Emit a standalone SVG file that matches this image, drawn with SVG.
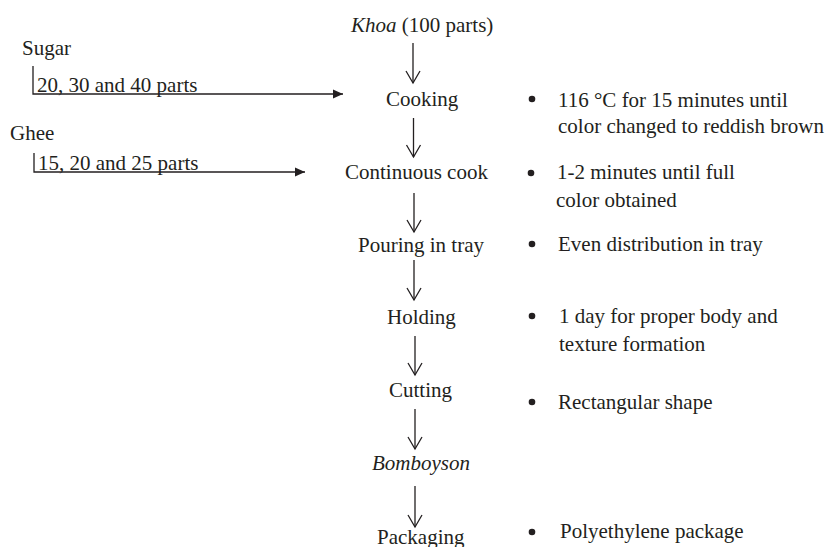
<svg xmlns="http://www.w3.org/2000/svg" width="829" height="547" viewBox="0 0 829 547">
<style>
text{font-family:"Liberation Serif","Times New Roman",serif;font-size:21px;fill:#231f20}
.it{font-style:italic}
.ln{stroke:#231f20;stroke-width:1.3;fill:none}
.bul{fill:#231f20}
</style>
<defs>
<marker id="v" viewBox="-13 -8 15 16" refX="0" refY="0" markerWidth="15" markerHeight="16" markerUnits="userSpaceOnUse" orient="auto" overflow="visible">
<path d="M-12,-7 L0,0 L-12,7" fill="none" stroke="#231f20" stroke-width="1.3"/>
</marker>
<marker id="t" viewBox="-11 -5 12 10" refX="0" refY="0" markerWidth="12" markerHeight="10" markerUnits="userSpaceOnUse" orient="auto" overflow="visible">
<path d="M-10,-4.5 L0,0 L-10,4.5 Z" fill="#231f20"/>
</marker>
</defs>
<rect width="829" height="547" fill="#fff"/>
<g id="connectors">
<line class="ln" x1="413" y1="43" x2="413" y2="83" marker-end="url(#v)"/>
<line class="ln" x1="413.5" y1="118" x2="413.5" y2="157" marker-end="url(#v)"/>
<line class="ln" x1="414" y1="193" x2="414" y2="232" marker-end="url(#v)"/>
<line class="ln" x1="414" y1="260" x2="414" y2="300" marker-end="url(#v)"/>
<line class="ln" x1="415" y1="336" x2="415" y2="375" marker-end="url(#v)"/>
<line class="ln" x1="415" y1="409" x2="415" y2="449" marker-end="url(#v)"/>
<line class="ln" x1="415" y1="486" x2="415" y2="527" marker-end="url(#v)"/>
<polyline class="ln" points="33,66 33,94 343,94" marker-end="url(#t)"/>
<polyline class="ln" points="34,153 34,172 305,172" marker-end="url(#t)"/>
</g>
<g id="khoa"><text x="351" y="32"><tspan class="it">Khoa</tspan> (100 parts)</text></g>
<g id="cooking"><text x="386" y="106">Cooking</text></g>
<g id="continuous"><text x="345" y="179">Continuous cook</text></g>
<g id="pouring"><text x="358" y="252">Pouring in tray</text></g>
<g id="holding"><text x="387" y="324">Holding</text></g>
<g id="cutting"><text x="389" y="397">Cutting</text></g>
<g id="bomboyson"><text class="it" x="372" y="470">Bomboyson</text></g>
<g id="packaging"><text x="377" y="544">Packaging</text></g>
<g id="sugar"><text x="22" y="55">Sugar</text><text x="37" y="92">20, 30 and 40 parts</text></g>
<g id="ghee"><text x="10" y="140">Ghee</text><text x="38" y="170">15, 20 and 25 parts</text></g>
<g id="note-cooking"><circle class="bul" cx="532" cy="99" r="3.3"/><text x="558" y="107">116 °C for 15 minutes until</text><text x="558" y="133">color changed to reddish brown</text></g>
<g id="note-continuous"><circle class="bul" cx="531" cy="173" r="3.3"/><text x="557" y="179">1-2 minutes until full</text><text x="556" y="207">color obtained</text></g>
<g id="note-pouring"><circle class="bul" cx="532" cy="244" r="3.3"/><text x="558" y="251">Even distribution in tray</text></g>
<g id="note-holding"><circle class="bul" cx="532" cy="316" r="3.3"/><text x="559" y="323">1 day for proper body and</text><text x="559" y="351">texture formation</text></g>
<g id="note-cutting"><circle class="bul" cx="532" cy="402" r="3.3"/><text x="558" y="409">Rectangular shape</text></g>
<g id="note-packaging"><circle class="bul" cx="532" cy="532" r="3.3"/><text x="560" y="538">Polyethylene package</text></g>
</svg>
